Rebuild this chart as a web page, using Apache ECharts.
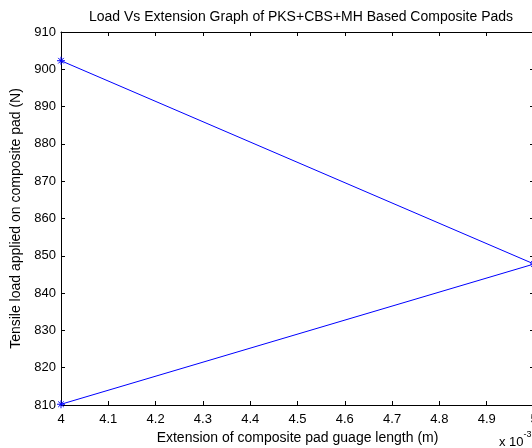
<!DOCTYPE html>
<html>
<head>
<meta charset="utf-8">
<script src="https://cdn.jsdelivr.net/npm/echarts@6/dist/echarts.min.js"></script>
<style>
  html, body { margin: 0; padding: 0; background: #fff; }
  #chart { width: 532px; height: 448px; }
</style>
</head>
<body>
<div id="chart"></div>
<script>
// extension in units of 1e-3 m, load in N
const extension = [4, 5, 4];
const load = [810.2, 847.8, 902.3];
const xTicks = [4, 4.1, 4.2, 4.3, 4.4, 4.5, 4.6, 4.7, 4.8, 4.9, 5];
const yTicks = [810, 820, 830, 840, 850, 860, 870, 880, 890, 900, 910];

const font = 'Liberation Sans, Arial, sans-serif';
const points = extension.map((x, i) => [x, load[i]]);

const chart = echarts.init(document.getElementById('chart'));

function boxAxis(pos, isX, show) {
  const ticks = isX ? xTicks : yTicks;
  return {
    type: 'value',
    position: pos,
    min: ticks[0],
    max: ticks[ticks.length - 1],
    interval: isX ? 0.1 : 10,
    axisLine: { show: true, onZero: false, lineStyle: { color: '#000', width: 1 } },
    axisTick: { show: true, inside: true, length: 4, lineStyle: { color: '#000' } },
    splitLine: { show: false },
    axisLabel: {
      show: show,
      color: '#000',
      fontFamily: font,
      fontSize: 13,
      margin: isX ? 8 : 5,
      showMinLabel: true,
      showMaxLabel: true,
      hideOverlap: false,
      formatter: function (v) { return String(Math.round(v * 10) / 10); }
    }
  };
}

const option = {
  backgroundColor: '#fff',
  animation: false,
  title: {
    text: 'Load Vs Extension Graph of PKS+CBS+MH Based Composite Pads',
    left: 296,
    top: 5,
    textAlign: 'center',
    textStyle: { color: '#000', fontFamily: font, fontSize: 14, fontWeight: 'normal' }
  },
  grid: { left: 61, top: 32, width: 473, height: 373, outerBoundsMode: 'none' },
  xAxis: [
    Object.assign(boxAxis('bottom', true, true), {
      name: 'Extension of composite pad guage length (m)',
      nameLocation: 'middle',
      nameGap: 25,
      nameTextStyle: { color: '#000', fontFamily: font, fontSize: 14 }
    }),
    boxAxis('top', true, false)
  ],
  yAxis: [
    Object.assign(boxAxis('left', false, true), {
      name: 'Tensile load applied on composite pad (N)',
      nameLocation: 'middle',
      nameGap: 34,
      nameTextStyle: { color: '#000', fontFamily: font, fontSize: 14 }
    }),
    boxAxis('right', false, false)
  ],
  graphic: [{
    type: 'text',
    left: 499,
    top: 430,
    style: {
      text: '{b|x 10}{s|-3}',
      rich: {
        b: { fontFamily: font, fontSize: 13, fill: '#000', verticalAlign: 'bottom', padding: [6, 0, 0, 0] },
        s: { fontFamily: font, fontSize: 9, fill: '#000', verticalAlign: 'top' }
      }
    }
  }],
  series: [{
    type: 'line',
    data: points,
    xAxisIndex: 0,
    yAxisIndex: 0,
    symbol: 'path://M0,-5L0,5M-5,0L5,0M-3.5,-3.5L3.5,3.5M-3.5,3.5L3.5,-3.5',
    symbolSize: 8,
    itemStyle: { color: 'none', borderColor: '#0000ff', borderWidth: 1 },
    lineStyle: { color: '#0000ff', width: 1 },
    clip: false
  }]
};

chart.setOption(option);
</script>
</body>
</html>
